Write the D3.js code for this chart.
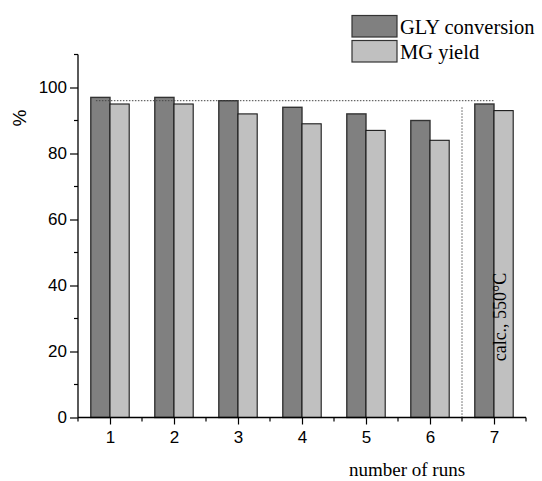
<!DOCTYPE html>
<html>
<head>
<meta charset="utf-8">
<script src="https://cdn.jsdelivr.net/npm/d3@7"></script>
<style>
  html, body { margin: 0; padding: 0; background: #fff; }
  svg { display: block; }
</style>
</head>
<body>
<svg id="chart" width="542" height="481"></svg>
<script>
const runs = [1, 2, 3, 4, 5, 6, 7];
const glyConversion = [97, 97, 96, 94, 92, 90, 95];
const mgYield = [95, 95, 92, 89, 87, 84, 93];
const seriesNames = ["GLY conversion", "MG yield"];
const yTicks = [0, 20, 40, 60, 80, 100];
const yMinorTicks = [10, 30, 50, 70, 90, 110];
const xMinorTicks = [0.5, 1.5, 2.5, 3.5, 4.5, 5.5, 6.5, 7.5];
const refLevel = [96];          // dotted horizontal reference (%)
const refSpan = [0.78, 7.0];    // run range of horizontal reference
const sepRun = [6.5];           // dotted vertical separator position
const sepTop = [94];            // top of vertical separator (%)
const noteText = "calc., 550°C";

const svg = d3.select("#chart");
const x = d3.scaleLinear().domain([0.5, 7.5]).range([78, 526]);
const y = d3.scaleLinear().domain([0, 110]).range([417.5, 54.5]);
const barW = x(0.3) - x(0);
const colors = ["#808080", "#c0c0c0"];
const sans = "'Liberation Sans', Arial, sans-serif";
const serif = "'Liberation Serif', 'Times New Roman', serif";

// bars
const series = [glyConversion, mgYield];
series.forEach((vals, si) => {
  svg.append("g").selectAll("rect")
    .data(runs.map((r, i) => ({ r, v: vals[i] })))
    .join("rect")
    .attr("x", d => si === 0 ? x(d.r) - barW : x(d.r))
    .attr("y", d => y(d.v))
    .attr("width", barW)
    .attr("height", d => y(0) - y(d.v))
    .attr("fill", colors[si])
    .attr("stroke", si === 0 ? "#333" : "#1a1a1a")
    .attr("stroke-width", si === 0 ? 1.4 : 1.1);
});

// dotted reference lines
svg.append("line")
  .attr("x1", x(refSpan[0])).attr("x2", x(refSpan[1]))
  .attr("y1", y(refLevel[0])).attr("y2", y(refLevel[0]))
  .attr("stroke", "#444").attr("stroke-width", 1)
  .attr("stroke-dasharray", "1.5,1.5");
svg.append("line")
  .attr("x1", x(sepRun[0])).attr("x2", x(sepRun[0]))
  .attr("y1", y(sepTop[0])).attr("y2", y(0))
  .attr("stroke", "#555").attr("stroke-width", 1)
  .attr("stroke-dasharray", "1.5,1.5");

// y axis
const yAxis = svg.append("g").attr("transform", `translate(${x(0.5)},0)`)
  .call(d3.axisLeft(y).tickValues(yTicks).tickSize(8).tickPadding(3).tickFormat(d3.format("d")));
yAxis.select(".domain").attr("d", `M0,${y(110)}V${y(0)}`).attr("stroke", "#000").attr("stroke-width", 1.3);
yAxis.selectAll(".tick line").attr("stroke-width", 1.2);
yAxis.selectAll("text").attr("font-family", sans).attr("font-size", 17).attr("fill", "#000");
svg.append("g").selectAll("line").data(yMinorTicks).join("line")
  .attr("x1", x(0.5) - 4).attr("x2", x(0.5))
  .attr("y1", d => y(d)).attr("y2", d => y(d))
  .attr("stroke", "#000").attr("stroke-width", 1.2);

// x axis
const xAxis = svg.append("g").attr("transform", `translate(0,${y(0)})`)
  .call(d3.axisBottom(x).tickValues(runs).tickSize(7).tickPadding(6).tickFormat(d3.format("d")));
xAxis.select(".domain").attr("d", `M${x(0.5)},0H${x(7.5)}`).attr("stroke", "#000").attr("stroke-width", 1.3);
xAxis.selectAll(".tick line").attr("stroke-width", 1.2);
xAxis.selectAll("text").attr("font-family", sans).attr("font-size", 17).attr("fill", "#000");
svg.append("g").selectAll("line").data(xMinorTicks).join("line")
  .attr("x1", d => x(d)).attr("x2", d => x(d))
  .attr("y1", y(0)).attr("y2", y(0) + 4)
  .attr("stroke", "#000").attr("stroke-width", 1.2);

// axis titles
svg.append("text")
  .attr("transform", `translate(26,118) rotate(-90)`)
  .attr("text-anchor", "middle")
  .attr("font-family", sans).attr("font-size", 19)
  .text("%");
svg.append("text")
  .attr("x", 407).attr("y", 476)
  .attr("text-anchor", "middle")
  .attr("font-family", serif).attr("font-size", 19)
  .text("number of runs");

// note
svg.append("text")
  .attr("transform", `translate(505.5,317) rotate(-90)`)
  .attr("text-anchor", "middle")
  .attr("font-family", serif).attr("font-size", 18)
  .text(noteText);

// legend
const legend = svg.append("g");
seriesNames.forEach((name, i) => {
  const top = 15.5 + i * 25;
  legend.append("rect")
    .attr("x", 352).attr("y", top)
    .attr("width", 45).attr("height", 21.5)
    .attr("fill", colors[i]).attr("stroke", "#333").attr("stroke-width", 1.2);
  legend.append("text")
    .attr("x", 400).attr("y", top + 18)
    .attr("font-family", serif).attr("font-size", 20.5)
    .text(name);
});
</script>
</body>
</html>
